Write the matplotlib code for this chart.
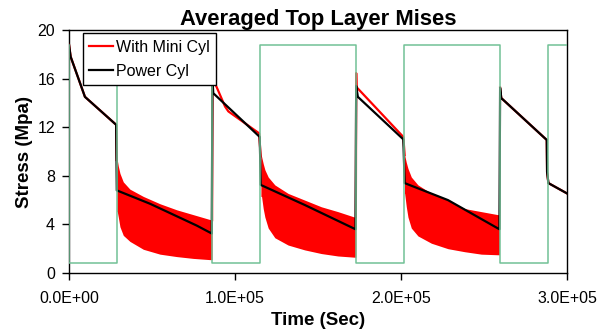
import matplotlib
matplotlib.use("Agg")
import matplotlib.pyplot as plt
from matplotlib.ticker import FuncFormatter, MultipleLocator
import numpy as np

plt.rcParams['font.family'] = ['Liberation Sans', 'DejaVu Sans']

# time values are in thousands of seconds, scaled below
# green load cycle (square wave)
cycle_t = [0, 0, 28.7, 28.7, 86.3, 86.3, 115.2, 115.2, 172.9, 172.9, 202.0, 202.0, 259.4, 259.4, 288.4, 288.4, 300]
cycle_s = [18.8, 0.85, 0.85, 18.8, 18.8, 0.85, 0.85, 18.8, 18.8, 0.85, 0.85, 18.8, 18.8, 0.85, 0.85, 18.8, 18.8]

# Power Cyl (black)
power_t = [0, 1.0, 9.6, 28.4, 28.8, 48.8, 77.0, 86.0, 86.4, 86.9, 114.9, 115.5, 142.0, 172.6,
           173.0, 174.0, 201.4, 202.2, 228.3, 259.3, 259.7, 260.4, 287.8, 288.0, 288.8, 300]
power_s = [18.8, 17.8, 14.5, 12.2, 6.8, 5.7, 3.9, 3.25, 16.0, 14.8, 11.2, 7.25, 5.6, 3.6,
           15.4, 14.5, 11.0, 7.4, 6.0, 3.6, 15.25, 14.4, 10.95, 8.3, 7.4, 6.55]

# With Mini Cyl (red) - high phases as a line
mini_t = [0, 1.0, 9.6, 28.4, 28.7, np.nan,
          86.2, 86.4, 88.0, 94.0, 96.0, 114.5, 115.5, np.nan,
          172.8, 173.0, 173.2, 201.4, 202.2, np.nan,
          259.7, 260.4, 287.8, 288.0, 288.8, 300]
mini_s = [18.8, 17.8, 14.5, 12.2, 9.3, np.nan,
          4.35, 16.2, 15.6, 13.7, 13.3, 11.5, 9.6, np.nan,
          4.6, 16.45, 15.3, 11.2, 9.7, np.nan,
          15.25, 14.4, 10.95, 8.3, 7.4, 6.55]

# With Mini Cyl - oscillating band during low phases (upper / lower envelopes)
band1_t = [28.8, 29.1, 29.7, 30.7, 32.7, 36.7, 44.8, 54.8, 64.9, 74.9, 84.9, 86.2]
band1_hi = [9.3, 9.3, 8.8, 8.2, 7.5, 6.9, 6.3, 5.7, 5.2, 4.8, 4.4, 4.35]
band1_lo = [5.05, 5.05, 4.6, 3.8, 3.1, 2.6, 1.95, 1.55, 1.35, 1.2, 1.1, 1.1]

band2_t = [115.6, 116.0, 117.0, 118.0, 120.0, 124.0, 132.0, 142.0, 152.0, 162.0, 172.0, 172.8]
band2_hi = [9.6, 9.6, 9.0, 8.5, 7.9, 7.25, 6.55, 6.0, 5.45, 5.05, 4.6, 4.6]
band2_lo = [6.3, 6.3, 5.3, 4.6, 3.7, 2.9, 2.3, 1.9, 1.6, 1.4, 1.3, 1.3]

band3_t = [202.1, 202.2, 203.2, 204.2, 206.2, 210.2, 218.3, 228.3, 238.4, 248.4, 258.4, 259.3]
band3_hi = [9.7, 9.7, 9.1, 8.6, 7.9, 7.25, 6.55, 6.0, 5.3, 5.05, 4.8, 4.8]
band3_lo = [6.55, 6.55, 5.45, 4.6, 3.7, 3.05, 2.45, 2.0, 1.75, 1.55, 1.5, 1.5]

k = 1000.0

fig = plt.figure(figsize=(6.05, 3.31), dpi=100)
ax = fig.add_axes([69/605, 58/331, 498/605, 243/331])

for bt, bh, bl in [(band1_t, band1_hi, band1_lo), (band2_t, band2_hi, band2_lo), (band3_t, band3_hi, band3_lo)]:
    ax.fill_between(np.array(bt)*k, bl, bh, color='#ff0000', linewidth=0, zorder=2)

ax.plot(np.array(mini_t)*k, mini_s, color='#ff0000', lw=1.6, zorder=3, label='With Mini Cyl')
ax.plot(np.array(power_t)*k, power_s, color='black', lw=1.6, zorder=4, label='Power Cyl')
ax.plot(np.array(cycle_t)*k, cycle_s, color='#72c196', lw=1.1, zorder=5)

ax.set_xlim(0, 3.0e5)
ax.set_ylim(0, 20)
ax.xaxis.set_major_locator(MultipleLocator(1.0e5))
ax.yaxis.set_major_locator(MultipleLocator(4))
ax.xaxis.set_major_formatter(FuncFormatter(lambda v, p: '%.1E' % v))

ax.tick_params(axis='both', direction='out', length=5, width=1, labelsize=11.5, colors='black')
ax.tick_params(axis='x', pad=8)
ax.tick_params(axis='y', pad=5)
for sp in ax.spines.values():
    sp.set_linewidth(1)
    sp.set_color('black')

ax.set_title('Averaged Top Layer Mises', fontsize=15.8, fontweight='bold', pad=3)
ax.set_xlabel('Time (Sec)', fontsize=13.5, fontweight='bold', labelpad=4)
ax.set_ylabel('Stress (Mpa)', fontsize=13.5, fontweight='bold', labelpad=3)

leg = ax.legend(loc='upper left', bbox_to_anchor=(0.0275, 0.986), borderaxespad=0,
                fancybox=False, framealpha=1, edgecolor='black', fontsize=11.5,
                handlelength=1.5, handletextpad=0.2, borderpad=0.4, labelspacing=0.55)
leg.get_frame().set_linewidth(1)
leg.set_zorder(10)

fig.savefig('out.png', dpi=100)
